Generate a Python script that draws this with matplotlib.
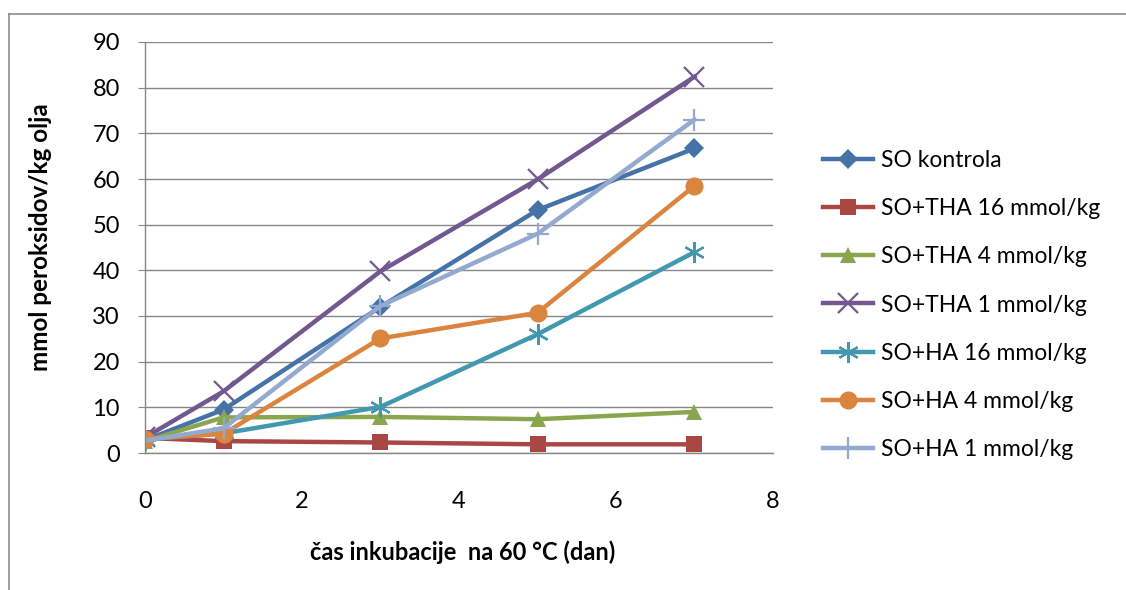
import matplotlib
matplotlib.use('Agg')
import matplotlib.pyplot as plt
from matplotlib.lines import Line2D

plt.rcParams['font.family'] = ['Lato', 'DejaVu Sans']

# days of incubation at 60 °C
dan = [0, 1, 3, 5, 7]

so_kontrola = [2.8, 9.5, 32.0, 53.2, 66.7]
so_tha16 = [3.3, 2.6, 2.3, 1.9, 1.9]
so_tha4 = [2.6, 7.8, 7.9, 7.4, 9.0]
so_tha1 = [3.4, 13.5, 39.8, 59.9, 82.4]
so_ha16 = [2.9, 4.3, 10.1, 26.0, 44.0]
so_ha4 = [3.1, 4.2, 25.1, 30.7, 58.5]
so_ha1 = [2.7, 5.4, 32.2, 48.0, 73.0]

labels = ['SO kontrola', 'SO+THA 16 mmol/kg', 'SO+THA 4 mmol/kg', 'SO+THA 1 mmol/kg',
          'SO+HA 16 mmol/kg', 'SO+HA 4 mmol/kg', 'SO+HA 1 mmol/kg']
series = [so_kontrola, so_tha16, so_tha4, so_tha1, so_ha16, so_ha4, so_ha1]

# excel-like palette and markers
colors = ['#4572A7', '#AA4643', '#89A54E', '#71588F', '#4198AF', '#DB843D', '#93A9CF']
markers = ['D', 's', '^', 'x', (6, 2, 0), 'o', '+']
msizes = [10, 12, 12, 14, 15, 13, 16]

fig = plt.figure(figsize=(11.26, 5.9), dpi=100)
ax = fig.add_axes([145/1126, 1 - 453/590, 628/1126, 411/590])

for y, lab, c, m, ms in zip(series, labels, colors, markers, msizes):
    thin = m in ('x', '+') or isinstance(m, tuple)
    ax.plot(dan, y, color=c, lw=3.2, marker=m, ms=ms,
            mew=1.6 if thin else 0, mfc=c, mec=c, label=lab)

ax.set_xlim(0, 8)
ax.set_ylim(0, 90)
ax.set_xticks(range(0, 9, 2))
ax.set_yticks(range(0, 91, 10))
ax.grid(axis='y', color='#868686', lw=1.0)
ax.set_axisbelow(True)
for s in ['top', 'right']:
    ax.spines[s].set_visible(False)
for s in ['left', 'bottom']:
    ax.spines[s].set_color('#868686')
    ax.spines[s].set_linewidth(1.0)
ax.tick_params(axis='y', length=5, color='#868686', pad=13, labelsize=17)
ax.tick_params(axis='x', length=0, pad=27, labelsize=17)

ax.set_xlabel('čas inkubacije  na 60 °C (dan)', fontsize=17, fontweight='bold')
ax.xaxis.set_label_coords(0.505, -0.212)
ax.set_ylabel('mmol peroksidov/kg olja', fontsize=17.5, fontweight='bold')
ax.yaxis.set_label_coords(-0.148, 0.525)

ax.legend(loc='center left', bbox_to_anchor=(802/1126, 1 - 305/590),
          bbox_transform=fig.transFigure, frameon=False, fontsize=16.5,
          labelspacing=1.18, handlelength=2.2, handletextpad=0.35)

# chart area border
fig.add_artist(Line2D([8.5/1126, 8.5/1126], [0, 1 - 14/590], transform=fig.transFigure,
                      color='#8c8c8c', lw=1.2))
fig.add_artist(Line2D([8.5/1126, 1], [1 - 14/590, 1 - 14/590], transform=fig.transFigure,
                      color='#8c8c8c', lw=1.2))

fig.savefig('out.png', dpi=100)
